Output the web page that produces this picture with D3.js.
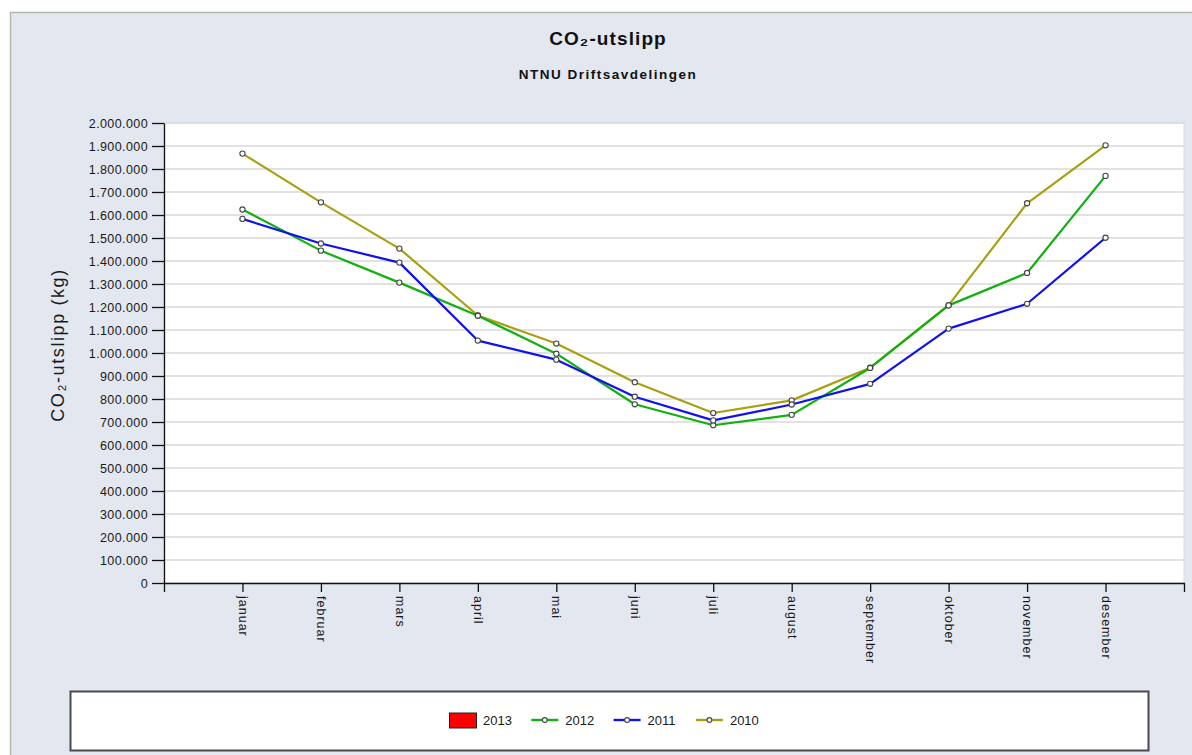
<!DOCTYPE html>
<html>
<head>
<meta charset="utf-8">
<script src="https://cdn.jsdelivr.net/npm/d3@7/dist/d3.min.js"></script>
<style>
  html, body { margin: 0; padding: 0; background: #ffffff; }
  svg { display: block; font-family: "Liberation Sans", Arial, sans-serif; }
</style>
</head>
<body>
<svg id="chart" width="1192" height="755"></svg>
<script>
// Monthly CO2 emissions (kg), NTNU Driftsavdelingen
const months = ["januar", "februar", "mars", "april", "mai", "juni", "juli",
                "august", "september", "oktober", "november", "desember"];

const years = ["2013", "2012", "2011", "2010"];

const values2013 = [];
const values2012 = [1624000, 1445000, 1306000, 1162000, 997000, 777000,
                    686000, 731000, 935000, 1207000, 1348000, 1770000];
const values2011 = [1583000, 1476000, 1393000, 1054000, 971000, 810000,
                    707000, 776000, 866000, 1106000, 1214000, 1501000];
const values2010 = [1867000, 1655000, 1454000, 1163000, 1041000, 873000,
                    739000, 794000, 936000, 1208000, 1651000, 1903000];

const yTicks = d3.range(0, 2000001, 100000);

const series = [
  { name: years[0], values: values2013, color: "#ff0000", kind: "bar" },
  { name: years[1], values: values2012, color: "#10b010", kind: "line" },
  { name: years[2], values: values2011, color: "#1010f0", kind: "line" },
  { name: years[3], values: values2010, color: "#a8a012", kind: "line" }
];

const svg = d3.select("#chart");
const W = 1192, H = 755;
const plot = { left: 164, right: 1184, top: 123, bottom: 583 };

// Outer panel
svg.append("rect").attr("x", 10).attr("y", 12).attr("width", W - 10).attr("height", H - 12)
  .attr("fill", "#e3e7f0");
svg.append("path").attr("d", `M10.5,${H} V12.5 H${W}`)
  .attr("fill", "none").attr("stroke", "#b4baa6").attr("stroke-width", 1.5);

// Titles
svg.append("text").attr("x", 608).attr("y", 45).attr("text-anchor", "middle")
  .attr("font-size", 19).attr("font-weight", "bold").attr("fill", "#111")
  .attr("letter-spacing", 1.1)
  .text("CO₂-utslipp");
svg.append("text").attr("x", 608).attr("y", 79).attr("text-anchor", "middle")
  .attr("font-size", 13.5).attr("font-weight", "bold").attr("fill", "#111")
  .attr("letter-spacing", 1.5)
  .text("NTNU Driftsavdelingen");

// Scales
const x = d3.scalePoint().domain(months).range([plot.left, plot.right]).padding(1);
const y = d3.scaleLinear().domain([0, 2000000]).range([plot.bottom, plot.top]);

// Plot background
svg.append("rect").attr("x", plot.left).attr("y", plot.top)
  .attr("width", plot.right - plot.left).attr("height", plot.bottom - plot.top)
  .attr("fill", "#ffffff").attr("stroke", "#dcdcdc").attr("stroke-width", 1);

// Horizontal grid
svg.append("g").selectAll("line").data(yTicks.filter(d => d > 0)).join("line")
  .attr("x1", plot.left).attr("x2", plot.right)
  .attr("y1", d => y(d)).attr("y2", d => y(d))
  .attr("stroke", "#d8d8d8").attr("stroke-width", 1.5);

// Number format with "." as thousands separator
const nb = d3.formatLocale({ decimal: ",", thousands: ".", grouping: [3], currency: ["", ""] });
const fmt = nb.format(",d");

// Y axis
const yAxis = svg.append("g").attr("transform", `translate(${plot.left},0)`)
  .call(d3.axisLeft(y).tickValues(yTicks).tickFormat(fmt).tickSize(12).tickSizeOuter(0).tickPadding(4));
yAxis.selectAll("text").attr("font-size", 12.5).attr("fill", "#1a1a1a")
  .attr("letter-spacing", 0.4)
  .style("font-family", "'Liberation Sans', Arial, sans-serif");
yAxis.selectAll("line, path").attr("stroke", "#111").attr("stroke-width", 1.3);

// X axis
const xAxis = svg.append("g").attr("transform", `translate(0,${plot.bottom})`)
  .call(d3.axisBottom(x).tickSize(9).tickSizeOuter(9));
xAxis.selectAll("line, path").attr("stroke", "#111").attr("stroke-width", 1.3);
xAxis.selectAll("text")
  .attr("transform", "rotate(90)")
  .attr("x", 13).attr("y", 0).attr("dy", "0.35em")
  .attr("text-anchor", "start")
  .attr("font-size", 12.5).attr("fill", "#1a1a1a")
  .attr("letter-spacing", 1)
  .style("font-family", "'Liberation Sans', Arial, sans-serif");

// Y axis title
svg.append("text").attr("transform", "translate(64,345) rotate(-90)")
  .attr("text-anchor", "middle").attr("font-size", 18).attr("fill", "#1a1a1a")
  .attr("letter-spacing", 1.6)
  .text("CO₂-utslipp (kg)");

// Lines and markers
const line = d3.line().x((d, i) => x(months[i])).y(d => y(d));
const lineSeries = series.filter(s => s.kind === "line" && s.values.length);
const drawOrder = [lineSeries[2], lineSeries[0], lineSeries[1]]; // 2010, 2012, 2011

drawOrder.forEach(s => {
  svg.append("path").datum(s.values)
    .attr("d", line).attr("fill", "none")
    .attr("stroke", s.color).attr("stroke-width", 2.2).attr("stroke-linejoin", "round");
});
drawOrder.forEach(s => {
  svg.append("g").selectAll("circle").data(s.values).join("circle")
    .attr("cx", (d, i) => x(months[i])).attr("cy", d => y(d)).attr("r", 2.6)
    .attr("fill", "#ffffff").attr("stroke", "#444").attr("stroke-width", 1.1);
});

// Legend
const legend = svg.append("g");
legend.append("rect").attr("x", 70.5).attr("y", 691.5).attr("width", 1078).attr("height", 59)
  .attr("fill", "#ffffff").attr("stroke", "#4a4a4a").attr("stroke-width", 2);

const items = legend.selectAll("g.item").data(series).join("g")
  .attr("class", "item")
  .attr("transform", (d, i) => `translate(${449 + i * 82.3},720)`);

items.each(function (s) {
  const g = d3.select(this);
  if (s.kind === "bar") {
    g.append("rect").attr("x", 0.5).attr("y", -7).attr("width", 27).attr("height", 15)
      .attr("fill", s.color).attr("stroke", "#222").attr("stroke-width", 1);
  } else {
    g.append("line").attr("x1", 0).attr("x2", 27).attr("y1", 0).attr("y2", 0)
      .attr("stroke", s.color).attr("stroke-width", 2.4);
    g.append("circle").attr("cx", 13.5).attr("cy", 0).attr("r", 2.4)
      .attr("fill", "#ffffff").attr("stroke", "#444").attr("stroke-width", 1.1);
  }
  g.append("text").attr("x", 34).attr("y", 5).attr("font-size", 13).attr("fill", "#1a1a1a")
    .text(s.name);
});
</script>
</body>
</html>
